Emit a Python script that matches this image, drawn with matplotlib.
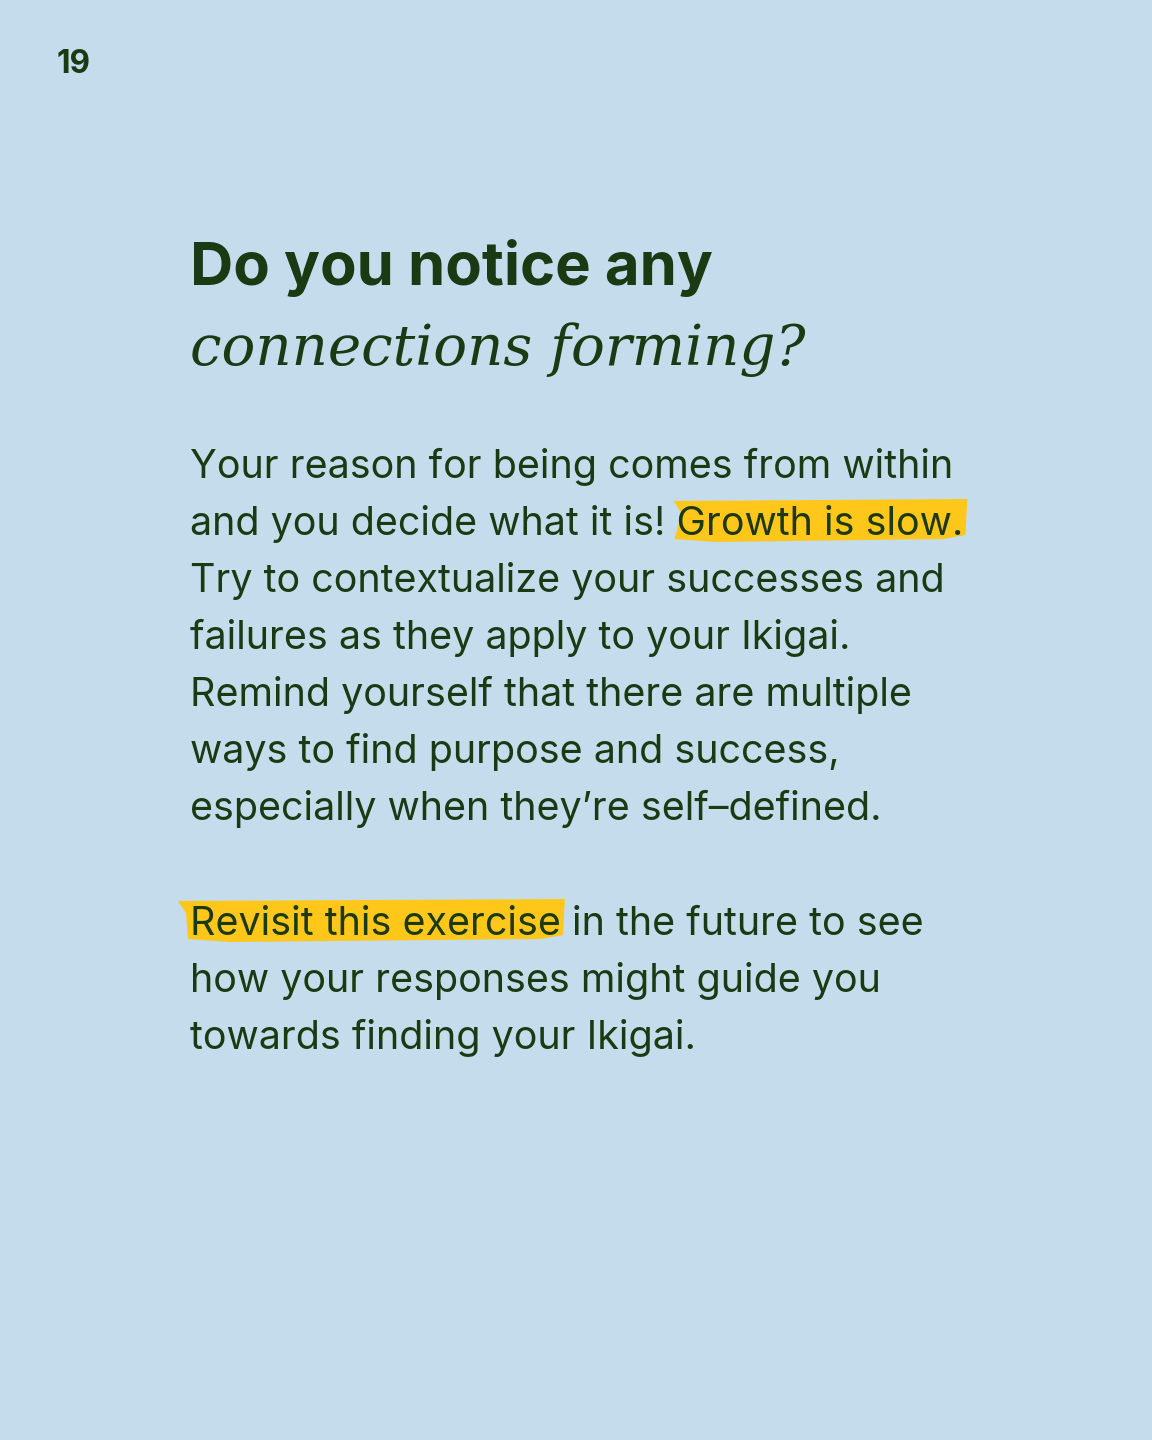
import matplotlib; matplotlib.use("Agg")
import matplotlib.pyplot as plt
from matplotlib.patches import Polygon

W, H, DPI = 1152, 1440, 100
BG = "#C5DCEC"; INK = "#1B3A14"; MARK = "#FFC71A"
SANS = ["Inter", "DejaVu Sans"]; SERIF = ["DejaVu Serif"]

# page content
PAGE = "19"
TITLE_SANS = "Do you notice any"
TITLE_SERIF = "connections forming?"
PARA1 = [
    "Your reason for being comes from within",
    "and you decide what it is! Growth is slow.",
    "Try to contextualize your successes and",
    "failures as they apply to your Ikigai.",
    "Remind yourself that there are multiple",
    "ways to find purpose and success,",
    "especially when they\u2019re self\u2013defined.",
]
PARA2 = [
    "Revisit this exercise in the future to see",
    "how your responses might guide you",
    "towards finding your Ikigai.",
]
# (paragraph, line, highlighted phrase)
HIGHLIGHTS = [(0, 1, "Growth is slow."), (1, 0, "Revisit this exercise")]

fig = plt.figure(figsize=(W / DPI, H / DPI), dpi=DPI, facecolor=BG)
ax = fig.add_axes([0, 0, 1, 1]); ax.set_xlim(0, W); ax.set_ylim(H, 0); ax.axis("off")
ax.set_facecolor(BG)
R = fig.canvas.get_renderer()


def width(s, fs, **kw):
    t = ax.text(0, 0, s, fontsize=fs, **kw)
    w = t.get_window_extent(R).width; t.remove()
    return w


def fit(s, target, **kw):
    return 10 * target / width(s, 10, **kw)


X0 = 190
HEAD = dict(family=SANS, weight="bold")
BODY = dict(family=SANS, weight="normal")
# page number
fs = fit(PAGE, 34, **HEAD)
ax.text(57, 73, PAGE, fontsize=fs, color=INK, va="baseline", **HEAD)

# title
fs = fit(TITLE_SANS, 522, **HEAD)
ax.text(X0, 285, TITLE_SANS, fontsize=fs, color=INK, va="baseline", **HEAD)
fs = fit(TITLE_SERIF, 615, family=SERIF, style="italic")
ax.text(X0, 365, TITLE_SERIF, fontsize=fs, family=SERIF, style="italic", color=INK, va="baseline")

# body
body_fs = fit(PARA1[0], 768, **BODY)
LEAD = 57
starts = [478, 935]
sp = width("n n", body_fs, **BODY) - width("nn", body_fs, **BODY)
for pi, (para, y0) in enumerate(zip([PARA1, PARA2], starts)):
    for li, line in enumerate(para):
        y = y0 + li * LEAD
        for hp, hl, phrase in HIGHLIGHTS:
            if hp == pi and hl == li:
                pre = line[:line.index(phrase)].rstrip()
                x1 = X0 + (width(pre, body_fs, **BODY) + sp if pre else 0)
                x2 = x1 + width(phrase, body_fs, **BODY)
                pad = 3 if pre else 12   # brush starts further out at a line start
                top, bot = y - 32, y + 6
                pts = [(x1 - pad, top - 2), (x2 + 4, top - 4), (x2 + 2, bot - 6),
                       (x2 - 20, bot - 2), (x1 + 40, bot + 1), (x1 - 2, bot - 2),
                       (x1 - pad + 8, top + 10)]
                ax.add_patch(Polygon(pts, closed=True, facecolor=MARK, edgecolor="none", zorder=1))
        ax.text(X0, y, line, fontsize=body_fs, color=INK, va="baseline", zorder=2, **BODY)

fig.savefig("out.png", dpi=DPI, facecolor=BG)
